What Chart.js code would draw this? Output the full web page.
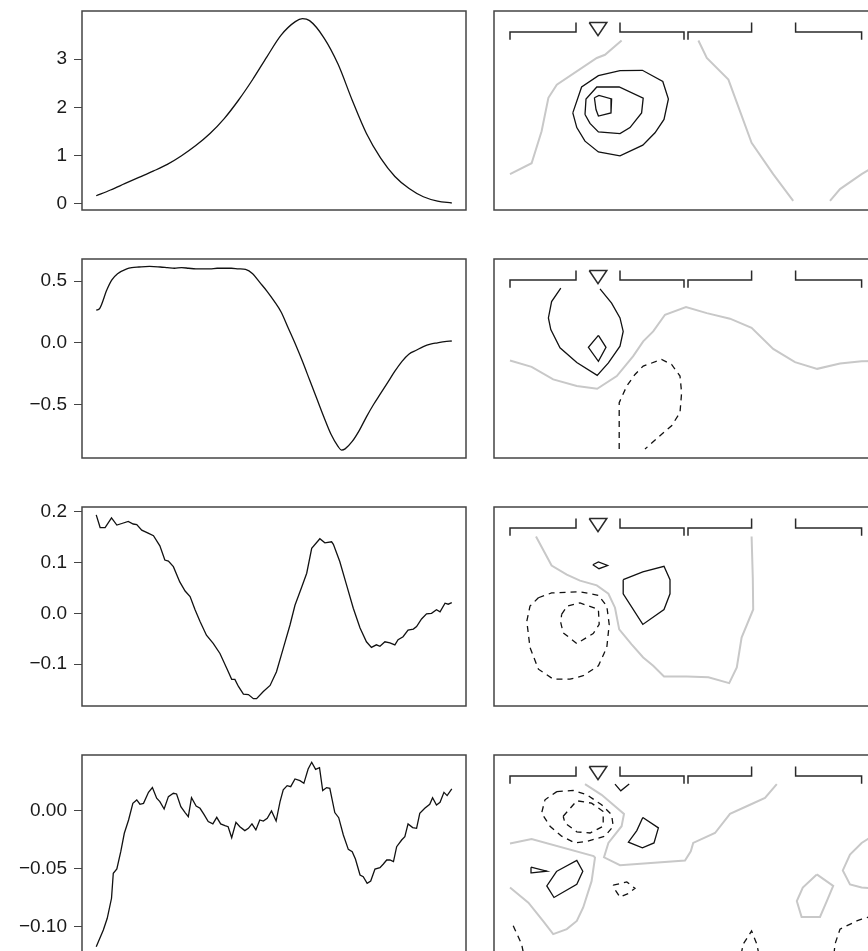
<!DOCTYPE html>
<html>
<head>
<meta charset="utf-8">
<script src="https://cdn.jsdelivr.net/npm/chart.js@4.4.0/dist/chart.umd.min.js"></script>
<style>
html, body { margin: 0; padding: 0; background: #fff; }
body { width: 868px; height: 951px; overflow: hidden; position: relative; }
canvas { position: absolute; }
</style>
</head>
<body>
<canvas id="trace1" width="470" height="219" style="left:0;top:1px"></canvas>
<canvas id="trace2" width="470" height="219" style="left:0;top:249px"></canvas>
<canvas id="trace3" width="470" height="219" style="left:0;top:497px"></canvas>
<canvas id="trace4" width="470" height="219" style="left:0;top:745px"></canvas>
<canvas id="map1" width="404" height="219" style="left:484px;top:1px"></canvas>
<canvas id="map2" width="404" height="219" style="left:484px;top:249px"></canvas>
<canvas id="map3" width="404" height="219" style="left:484px;top:497px"></canvas>
<canvas id="map4" width="404" height="219" style="left:484px;top:745px"></canvas>
<script>
// left column: component time series
var row1X = [0, 4, 8, 12, 16, 20, 24, 28, 32, 36, 40, 44, 48, 52, 56, 58, 60, 64, 68, 72, 76, 80, 84, 88, 92, 96, 100]
var row1Y = [0.17, 0.29, 0.42, 0.55, 0.68, 0.82, 1.00, 1.21, 1.46, 1.77, 2.15, 2.58, 3.05, 3.50, 3.78, 3.84, 3.80, 3.45, 2.90, 2.15, 1.46, 0.95, 0.57, 0.32, 0.15, 0.06, 0.02]

var row2X = [0, 1, 3, 4.4, 6, 8.6, 10, 12, 15, 18, 20, 22, 24, 26, 28, 30, 32, 34, 36, 38, 40, 42, 44, 46, 48, 50, 52, 54, 56, 58, 60, 62, 64, 66, 68, 69, 70, 72, 74, 76, 78, 80, 82, 84, 86, 88, 90, 92, 94, 96, 98, 100]
var row2Y = [0.265, 0.28, 0.43, 0.51, 0.56, 0.60, 0.61, 0.615, 0.62, 0.615, 0.61, 0.605, 0.61, 0.605, 0.60, 0.60, 0.60, 0.605, 0.605, 0.605, 0.60, 0.595, 0.56, 0.49, 0.42, 0.34, 0.25, 0.12, -0.01, -0.15, -0.30, -0.45, -0.60, -0.74, -0.84, -0.87, -0.86, -0.80, -0.71, -0.60, -0.50, -0.41, -0.32, -0.23, -0.15, -0.09, -0.06, -0.03, -0.01, 0.00, 0.01, 0.015]

var row3X = [0, 1.1, 2.5, 4.3, 5.8, 7.2, 9.0, 10.4, 11.4, 12.8, 14.6, 16.1, 17.9, 19.3, 20.3, 21.7, 23.5, 25, 26.4, 27.8, 29.2, 31.0, 32.9, 34.8, 36.7, 38.1, 39.0, 40.0, 41.4, 42.8, 44.2, 45.1, 47.0, 48.9, 50.7, 52.6, 54.5, 55.9, 57.8, 59.2, 60.6, 62.9, 64.3, 66.2, 66.7, 68.5, 70.4, 72.3, 74.2, 76.0, 77.4, 78.8, 79.8, 81.2, 82.6, 84.0, 84.9, 86.3, 87.7, 89.2, 90.1, 91.5, 92.9, 94.3, 95.7, 96.7, 98.1, 99.0, 100]
var row3Y = [0.194, 0.169, 0.169, 0.188, 0.174, 0.177, 0.181, 0.176, 0.175, 0.164, 0.158, 0.153, 0.133, 0.105, 0.103, 0.092, 0.062, 0.044, 0.033, 0.007, -0.016, -0.043, -0.059, -0.079, -0.108, -0.130, -0.130, -0.144, -0.159, -0.160, -0.168, -0.168, -0.154, -0.142, -0.115, -0.069, -0.023, 0.016, 0.052, 0.079, 0.128, 0.147, 0.139, 0.141, 0.136, 0.102, 0.056, 0.010, -0.029, -0.056, -0.067, -0.062, -0.065, -0.056, -0.058, -0.062, -0.052, -0.046, -0.033, -0.031, -0.026, -0.011, -0.001, 0.000, 0.007, 0.003, 0.020, 0.018, 0.021]

var row4X = [0, 2.0, 3.1, 4.3, 4.8, 5.8, 6.9, 7.9, 9.1, 10.3, 11.4, 12.3, 13.3, 14.7, 15.8, 17.0, 17.9, 19.1, 20.3, 21.7, 22.6, 23.8, 25.0, 25.9, 26.8, 28.1, 29.2, 30.3, 31.5, 32.8, 33.9, 35.0, 36.2, 37.1, 38.1, 39.3, 40.4, 41.8, 42.8, 43.8, 44.9, 46.0, 47.0, 48.1, 49.3, 50.6, 51.7, 52.6, 53.7, 54.7, 55.9, 57.3, 58.4, 59.6, 60.6, 61.7, 62.8, 63.7, 64.8, 65.7, 67.1, 68.2, 69.5, 70.9, 72.0, 72.9, 74.2, 75.1, 76.2, 77.2, 78.4, 79.8, 80.7, 81.7, 82.6, 83.6, 84.5, 85.9, 86.8, 87.7, 89.0, 90.1, 91.0, 92.4, 93.8, 94.6, 95.7, 96.7, 97.8, 98.7, 100]
var row4Y = [-0.1174, -0.1029, -0.0928, -0.0755, -0.0539, -0.0502, -0.0352, -0.0193, -0.0078, 0.0066, 0.0095, 0.0058, 0.0066, 0.0161, 0.0202, 0.0110, 0.0081, 0.0017, 0.0124, 0.0153, 0.0147, 0.0037, -0.0014, -0.0049, 0.0115, 0.0043, 0.0023, -0.0029, -0.0092, -0.0112, -0.0055, -0.0112, -0.0127, -0.0136, -0.0231, -0.0098, -0.0136, -0.0170, -0.0150, -0.0112, -0.0164, -0.0078, -0.0087, -0.0063, 0.0000, -0.0087, 0.0081, 0.0182, 0.0219, 0.0210, 0.0277, 0.0262, 0.0239, 0.0363, 0.0421, 0.0360, 0.0375, 0.0176, 0.0202, 0.0196, -0.0014, -0.0058, -0.0208, -0.0332, -0.0352, -0.0415, -0.0554, -0.0568, -0.0626, -0.0606, -0.0502, -0.0490, -0.0461, -0.0424, -0.0424, -0.0438, -0.0309, -0.0251, -0.0222, -0.0112, -0.0144, -0.0150, -0.0020, 0.0023, 0.0058, 0.0115, 0.0052, 0.0075, 0.0161, 0.0133, 0.0190]

var row1Ticks = [0, 1, 2, 3]
var row1Labels = ["0", "1", "2", "3"]
var row2Ticks = [-0.5, 0, 0.5]
var row2Labels = ["\u22120.5", "0.0", "0.5"]
var row3Ticks = [-0.1, 0, 0.1, 0.2]
var row3Labels = ["\u22120.1", "0.0", "0.1", "0.2"]
var row4Ticks = [-0.10, -0.05, 0]
var row4Labels = ["\u22120.10", "\u22120.05", "0.00"]

// right column: contour maps (x = position, y = depth, depth grows downwards)
var brackets = [
    [[4, 7.25], [4, 5.25], [20.5, 5.25], [20.5, 2.9]],
    [[31.5, 2.9], [31.5, 5.25], [47.5, 5.25], [47.5, 7.25]],
    [[48.5, 7.25], [48.5, 5.25], [64.4, 5.25], [64.4, 2.9]],
    [[75.4, 2.9], [75.4, 5.25], [91.9, 5.25], [91.9, 7.25]]
]
var siteMarker = [[23.8, 2.9], [28.2, 2.9], [26, 6.2], [23.8, 2.9]]

var map1Zero = [
    [[4, 41], [9.4, 38.25], [11.9, 30.2], [13.6, 21.8], [15.7, 18.5], [25.7, 11.8], [27.75, 11], [31.9, 7.4]],
    [[51.1, 7.4], [53.2, 11.8], [58.6, 17.25], [64.4, 33.1], [69.8, 41], [74.8, 47.7]],
    [[84, 47.7], [86.5, 44.75], [91.9, 41], [96, 38.5]]
]
var map1Pos = [
    [[19.7, 25.6], [21.9, 19.1], [26.1, 16.25], [31.5, 15], [37.1, 14.9], [42.2, 17.7], [43.6, 22.1], [42.5, 27.25], [40.25, 30.6], [37.2, 33.7], [31.5, 36.4], [26.1, 35.4], [22.75, 32.7], [20.7, 29.3], [19.7, 25.6]],
    [[22.75, 26], [23, 22.1], [25.7, 19.1], [31.3, 19.1], [37.3, 21.9], [36.9, 25.6], [34, 29.3], [31.5, 30.8], [26.1, 30.4], [24, 28.25], [22.75, 26]],
    [[25.1, 21.8], [26.25, 21.2], [29.4, 22.1], [29.25, 25.6], [26.1, 26.4], [25.5, 24.75], [25.1, 21.8]]
]
var map1Neg = []

var map2Zero = [
    [[4, 25.5], [9.4, 27.1], [14.8, 30.25], [20.7, 31.9], [25.8, 32.6], [30.7, 29.4], [34.8, 24.4], [37.3, 20.7], [39.8, 18.2], [42.75, 14], [48, 12.1], [53.2, 13.6], [59, 15], [64.4, 17.3], [69.8, 22.6], [75.25, 25.9], [80.8, 27.6], [86.5, 26.25], [91.9, 25.7], [96, 25.6]]
]
var map2Pos = [
    [[16.7, 7.3], [14.4, 10.7], [13.6, 14.8], [14.2, 17.75], [16.5, 22.3], [20.7, 26], [25.8, 29.25], [28.6, 26.1], [31.5, 21.9], [32.3, 18.2], [31.5, 14.8], [29.4, 11.1], [26.5, 7.5]],
    [[26.1, 19.2], [28, 22.2], [26.1, 25.7], [23.6, 22.2], [26.1, 19.2]]
]
var map2Neg = [
    [[31.3, 47.75], [31.3, 36.1], [33.2, 31.9], [35.25, 29], [37.3, 26.9], [41.9, 25.25], [44.4, 26.5], [46.5, 29.4], [46.9, 33.6], [46.5, 38.6], [44.4, 41.9], [41.5, 44.4], [37.75, 47.75]]
]

var map3Zero = [
    [[10.5, 7.4], [14.4, 14.7], [18.2, 17], [21.5, 18.5], [25.7, 19.7], [28.6, 21.8], [30.25, 25.3], [31.3, 30.75], [34.4, 34.5], [37.3, 37.8], [39.8, 39.9], [42.5, 42.6], [48.2, 42.6], [53.6, 42.8], [58.8, 44.25], [60.7, 40.3], [61.9, 32.8], [64.8, 25.75], [64.7, 17.8], [64.4, 7.4]]
]
var map3Pos = [
    [[24.7, 14.5], [26.1, 13.8], [28.4, 14.7], [26.25, 15.5], [24.7, 14.5]],
    [[32.3, 18.25], [37.2, 16.3], [42.5, 14.9], [44, 18.25], [44, 21.8], [42.5, 25.75], [37.2, 29.5], [32.3, 21.8], [32.3, 18.25]]
]
var map3Neg = [
    [[11.1, 22.8], [14.4, 21.6], [21.5, 21.3], [26.1, 22.2], [28.2, 24.9], [28.8, 29.5], [28.2, 35.3], [26.1, 39.9], [22.3, 42.4], [19, 43.25], [14.8, 43.25], [11.1, 40.75], [9, 35.3], [8.2, 28.7], [9, 24.9], [11.1, 22.8]],
    [[16.9, 27], [18.3, 24.9], [21.5, 24.1], [26.1, 25.75], [26.3, 29.5], [24.8, 31.8], [20.7, 34.3], [17.3, 31.6], [16.7, 29.1], [16.9, 27]]
]

var map4Zero = [
    [[22.75, 7.3], [26.9, 10], [32.5, 14.8], [31.9, 17.9], [28.6, 22.1], [27.5, 25.7], [31.5, 27.7], [47.75, 26.5], [49.2, 24.2], [49.8, 22.1], [55.25, 19.6], [59, 14.8], [64, 12.5], [67.75, 10.8], [70.7, 7.3]],
    [[4, 22.25], [9.4, 21.1], [24.9, 25.4], [25.25, 25.8], [24.4, 31.7], [22.3, 38.3], [20.7, 41.7], [18.2, 43.75], [14.8, 45], [12.25, 41.7], [8.6, 37.1], [4, 33.3]],
    [[80.7, 30], [84.8, 32.9], [83.2, 36.7], [81.5, 40.7], [76.9, 40.7], [75.7, 36.7], [77.2, 33.3], [80.7, 30]],
    [[96, 19.5], [91.9, 22.1], [89, 25], [87.2, 29], [89, 32.5], [91.9, 33.3], [96, 33.6]]
]
var map4Pos = [
    [[30.25, 7.3], [31.7, 9], [33.8, 7.3]],
    [[37.2, 15.7], [41.1, 18.3], [40, 22.1], [37.1, 23.3], [33.6, 21.9], [35.7, 19], [37.2, 15.7]],
    [[9.25, 28.2], [13.2, 29.2], [9.4, 29.6], [9.25, 28.2]],
    [[15.7, 29.2], [20.7, 26.5], [22.2, 29.2], [20.7, 32.5], [15, 35.8], [13.2, 32.9], [15.7, 29.2]]
]
var map4Neg = [
    [[15.7, 9.2], [19.8, 8.9], [23.2, 10], [26.9, 12.5], [29.4, 15], [29.8, 17.9], [27.75, 20.4], [23.2, 21.7], [20.25, 22.1], [16.9, 20.4], [14, 17.9], [11.9, 14.6], [12.75, 11.25], [15.7, 9.2]],
    [[17.3, 15.4], [20.7, 11.5], [24.4, 12.1], [27.3, 14.2], [27.3, 17.9], [24, 19.6], [20.7, 19.3], [17.75, 17.1], [17.3, 15.4]],
    [[29.8, 32.7], [33.2, 31.9], [35.25, 33.5], [33.6, 34.8], [31.5, 35.7], [30.5, 34.2], [29.8, 32.7]],
    [[4.8, 42.9], [6.9, 47.5], [7.4, 50]],
    [[61.8, 50], [62.3, 47.5], [64.4, 44.2], [65.7, 47.5], [66.2, 50]],
    [[85, 50], [85.25, 47.5], [86.5, 43.75], [90.7, 41.7], [91.9, 41.25], [96, 40]]
]

var frameColor = "#444"
var inkColor = "#111"
var zeroColor = "#c8c8c8"

// plain rectangle round the plotting region, like R's box()
var boxPlugin = {
    id: "box",
    afterDraw: function (chart) {
        var a = chart.chartArea
        var ctx = chart.ctx
        ctx.save()
        ctx.strokeStyle = frameColor
        ctx.lineWidth = 1.5
        ctx.strokeRect(a.left, a.top, a.right - a.left, a.bottom - a.top)
        ctx.restore()
    }
}

function toPoints(xs, ys) {
    return xs.map(function (x, i) { return { "x": x, "y": ys[i] } })
}

function createTraceChart(element_id, xs, ys, y_min, y_max, tick_values, tick_labels, smooth) {
    return new Chart(document.getElementById(element_id), {
        "type": "line",
        "data": {
            "datasets": [{
                "data": toPoints(xs, ys),
                "borderColor": inkColor,
                "borderWidth": 1.3,
                "pointRadius": 0,
                "fill": false,
                "tension": 0,
                "cubicInterpolationMode": smooth ? "monotone" : "default"
            }]
        },
        "options": {
            "responsive": false,
            "animation": false,
            "events": [],
            "layout": { "padding": { "top": 10, "bottom": 10, "left": 0, "right": 4 } },
            "plugins": { "legend": { "display": false }, "tooltip": { "enabled": false } },
            "scales": {
                "x": { "type": "linear", "display": false, "min": -4, "max": 104 },
                "y": {
                    "type": "linear",
                    "min": y_min,
                    "max": y_max,
                    "afterFit": function (scale) {
                        // fixed gutter, and no extra room for the end labels
                        scale.width = 82
                        scale.paddingTop = 0
                        scale.paddingBottom = 0
                    },
                    "afterBuildTicks": function (scale) {
                        scale.ticks = tick_values.map(function (v) { return { "value": v } })
                    },
                    "ticks": {
                        "autoSkip": false,
                        "padding": 7,
                        "color": "#1a1a1a",
                        "font": { "family": "'Liberation Sans', Arial, sans-serif", "size": 19 },
                        "callback": function (value, index) { return tick_labels[index] }
                    },
                    "grid": { "drawOnChartArea": false, "tickLength": 8, "color": frameColor, "lineWidth": 1 },
                    "border": { "display": false }
                }
            }
        },
        "plugins": [boxPlugin]
    })
}

function lineSets(lines, color, width, dash) {
    return lines.map(function (line) {
        return {
            "data": line.map(function (p) { return { "x": p[0], "y": p[1] } }),
            "showLine": true,
            "borderColor": color,
            "borderWidth": width,
            "borderDash": dash,
            "pointRadius": 0,
            "tension": 0,
            "fill": false
        }
    })
}

function createMapChart(element_id, zero_lines, pos_lines, neg_lines) {
    // first dataset ends up on top, so the grey zero lines go last
    var datasets = []
        .concat(lineSets(brackets, "#2a2a2a", 1.5, []))
        .concat(lineSets([siteMarker], "#2a2a2a", 1.5, []))
        .concat(lineSets(pos_lines, inkColor, 1.3, []))
        .concat(lineSets(neg_lines, inkColor, 1.3, [6, 5]))
        .concat(lineSets(zero_lines, zeroColor, 2, []))
    return new Chart(document.getElementById(element_id), {
        "type": "scatter",
        "data": { "datasets": datasets },
        "options": {
            "responsive": false,
            "animation": false,
            "events": [],
            "layout": { "padding": 10 },
            "plugins": { "legend": { "display": false }, "tooltip": { "enabled": false } },
            "scales": {
                "x": { "type": "linear", "display": false, "min": 0, "max": 96 },
                "y": { "type": "linear", "display": false, "min": 0, "max": 50, "reverse": true }
            }
        },
        "plugins": [boxPlugin]
    })
}

createTraceChart("trace1", row1X, row1Y, -0.125, 4.0, row1Ticks, row1Labels, true)
createTraceChart("trace2", row2X, row2Y, -0.934, 0.68, row2Ticks, row2Labels, true)
createTraceChart("trace3", row3X, row3Y, -0.1825, 0.2095, row3Ticks, row3Labels, false)
createTraceChart("trace4", row4X, row4Y, -0.1237, 0.0484, row4Ticks, row4Labels, false)

createMapChart("map1", map1Zero, map1Pos, map1Neg)
createMapChart("map2", map2Zero, map2Pos, map2Neg)
createMapChart("map3", map3Zero, map3Pos, map3Neg)
createMapChart("map4", map4Zero, map4Pos, map4Neg)
</script>
</body>
</html>
